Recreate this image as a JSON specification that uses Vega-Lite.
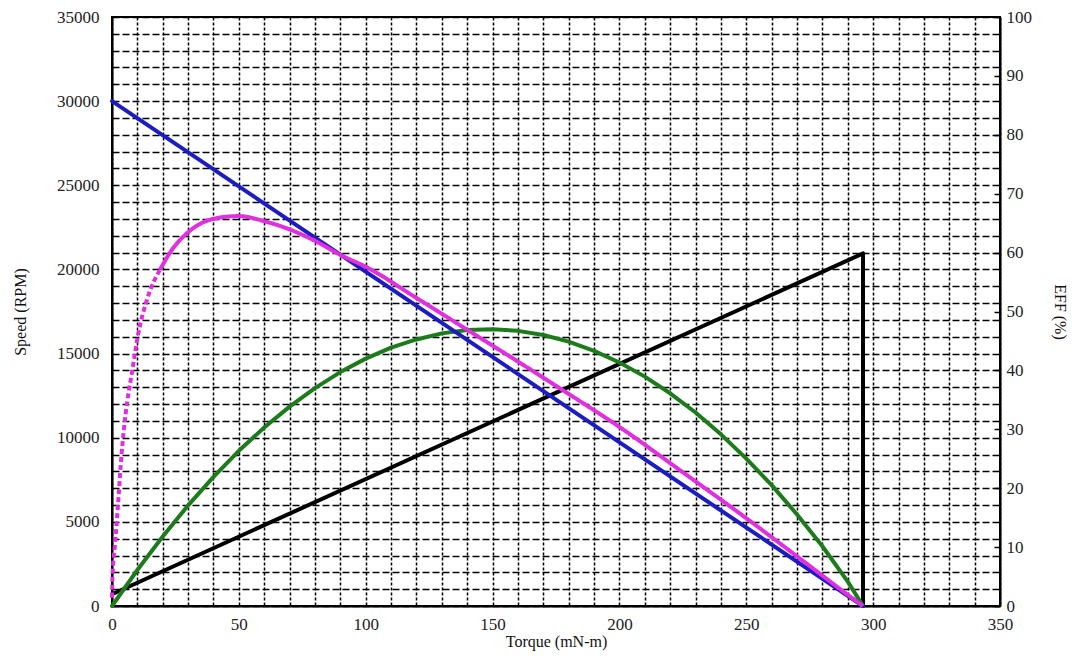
{
  "$schema": "https://vega.github.io/schema/vega-lite/v6.json",
  "width": 888,
  "height": 589,
  "autosize": {"type": "none"},
  "padding": {"left": 112, "top": 17, "right": 84, "bottom": 54},
  "background": "white",
  "config": {
    "font": "Liberation Serif",
    "view": {"stroke": "black", "strokeWidth": 2}
  },
  "datasets": {
    "left": [
      {"series": "current", "seq": 0, "torque": 0, "value": 700},
      {"series": "current", "seq": 1, "torque": 296, "value": 20950},
      {"series": "current", "seq": 2, "torque": 296, "value": 0},
      {"series": "power", "seq": 0, "torque": 0, "value": 0},
      {"series": "power", "seq": 1, "torque": 10, "value": 2140},
      {"series": "power", "seq": 2, "torque": 20, "value": 4130},
      {"series": "power", "seq": 3, "torque": 30, "value": 5980},
      {"series": "power", "seq": 4, "torque": 40, "value": 7670},
      {"series": "power", "seq": 5, "torque": 50, "value": 9220},
      {"series": "power", "seq": 6, "torque": 60, "value": 10610},
      {"series": "power", "seq": 7, "torque": 70, "value": 11850},
      {"series": "power", "seq": 8, "torque": 80, "value": 12950},
      {"series": "power", "seq": 9, "torque": 90, "value": 13900},
      {"series": "power", "seq": 10, "torque": 100, "value": 14700},
      {"series": "power", "seq": 11, "torque": 110, "value": 15350},
      {"series": "power", "seq": 12, "torque": 120, "value": 15840},
      {"series": "power", "seq": 13, "torque": 130, "value": 16200},
      {"series": "power", "seq": 14, "torque": 140, "value": 16400},
      {"series": "power", "seq": 15, "torque": 150, "value": 16450},
      {"series": "power", "seq": 16, "torque": 160, "value": 16350},
      {"series": "power", "seq": 17, "torque": 170, "value": 16100},
      {"series": "power", "seq": 18, "torque": 180, "value": 15710},
      {"series": "power", "seq": 19, "torque": 190, "value": 15160},
      {"series": "power", "seq": 20, "torque": 200, "value": 14470},
      {"series": "power", "seq": 21, "torque": 210, "value": 13630},
      {"series": "power", "seq": 22, "torque": 220, "value": 12640},
      {"series": "power", "seq": 23, "torque": 230, "value": 11500},
      {"series": "power", "seq": 24, "torque": 240, "value": 10200},
      {"series": "power", "seq": 25, "torque": 250, "value": 8760},
      {"series": "power", "seq": 26, "torque": 260, "value": 7180},
      {"series": "power", "seq": 27, "torque": 270, "value": 5440},
      {"series": "power", "seq": 28, "torque": 280, "value": 3550},
      {"series": "power", "seq": 29, "torque": 290, "value": 1450},
      {"series": "power", "seq": 30, "torque": 296, "value": 0},
      {"series": "speed", "seq": 0, "torque": 0, "value": 30000},
      {"series": "speed", "seq": 1, "torque": 296, "value": 0}
    ],
    "eff": [
      {"series": "start", "seq": 0, "torque": 0, "eff": 1.4},
      {"series": "start", "seq": 1, "torque": 0.2, "eff": 5.0},
      {"series": "start", "seq": 2, "torque": 1.2, "eff": 10.6},
      {"series": "start", "seq": 3, "torque": 2.5, "eff": 18.0},
      {"series": "start", "seq": 4, "torque": 3.8, "eff": 25.9},
      {"series": "start", "seq": 5, "torque": 5.4, "eff": 32.7},
      {"series": "start", "seq": 6, "torque": 7.8, "eff": 39.5},
      {"series": "start", "seq": 7, "torque": 10.4, "eff": 46.3},
      {"series": "start", "seq": 8, "torque": 13.7, "eff": 51.9},
      {"series": "start", "seq": 9, "torque": 18.9, "eff": 57.1},
      {"series": "main", "seq": 0, "torque": 18.9, "eff": 57.1},
      {"series": "main", "seq": 1, "torque": 23.5, "eff": 60.4},
      {"series": "main", "seq": 2, "torque": 30.1, "eff": 63.5},
      {"series": "main", "seq": 3, "torque": 40.6, "eff": 65.8},
      {"series": "main", "seq": 4, "torque": 49.8, "eff": 66.2},
      {"series": "main", "seq": 5, "torque": 60.3, "eff": 65.3},
      {"series": "main", "seq": 6, "torque": 70.8, "eff": 63.8},
      {"series": "main", "seq": 7, "torque": 80, "eff": 62.0},
      {"series": "main", "seq": 8, "torque": 91, "eff": 59.4},
      {"series": "main", "seq": 9, "torque": 100, "eff": 57.6},
      {"series": "main", "seq": 10, "torque": 120, "eff": 52.3},
      {"series": "main", "seq": 11, "torque": 140, "eff": 46.9},
      {"series": "main", "seq": 12, "torque": 160, "eff": 41.5},
      {"series": "main", "seq": 13, "torque": 180, "eff": 36.0},
      {"series": "main", "seq": 14, "torque": 200, "eff": 30.4},
      {"series": "main", "seq": 15, "torque": 225, "eff": 22.7},
      {"series": "main", "seq": 16, "torque": 250, "eff": 14.9},
      {"series": "main", "seq": 17, "torque": 275, "eff": 6.8},
      {"series": "main", "seq": 18, "torque": 290, "eff": 1.9},
      {"series": "main", "seq": 19, "torque": 296, "eff": 0}
    ]
  },
  "layer": [
    {
      "data": {"name": "left"},
      "mark": {"type": "line", "strokeWidth": 4, "strokeCap": "round", "strokeJoin": "round"},
      "encoding": {
        "x": {
          "field": "torque",
          "type": "quantitative",
          "scale": {"domain": [0, 350], "nice": false},
          "axis": {
            "orient": "bottom",
            "title": null,
            "values": [0, 10, 20, 30, 40, 50, 60, 70, 80, 90, 100, 110, 120, 130, 140, 150, 160, 170, 180, 190, 200, 210, 220, 230, 240, 250, 260, 270, 280, 290, 300, 310, 320, 330, 340, 350],
            "labels": false,
            "ticks": false,
            "domainColor": "black",
            "domainWidth": 2,
            "grid": true,
            "gridColor": "black",
            "gridOpacity": 1,
            "gridWidth": 1.5,
            "gridDash": [3, 2]
          }
        },
        "y": {
          "field": "value",
          "type": "quantitative",
          "scale": {"domain": [0, 35000], "nice": false},
          "axis": {
            "title": "Speed (RPM)",
            "titleFont": "Liberation Serif",
            "titleFontSize": 16,
            "titleFontWeight": "normal",
            "titleColor": "#111",
            "values": [0, 1000, 2000, 3000, 4000, 5000, 6000, 7000, 8000, 9000, 10000, 11000, 12000, 13000, 14000, 15000, 16000, 17000, 18000, 19000, 20000, 21000, 22000, 23000, 24000, 25000, 26000, 27000, 28000, 29000, 30000, 31000, 32000, 33000, 34000, 35000],
            "labelExpr": "datum.value % 5000 == 0 ? datum.label : ''",
            "format": "d",
            "labelFont": "Liberation Serif",
            "labelFontSize": 17,
            "labelColor": "#222",
            "labelOverlap": false,
            "labelFlush": false,
            "labelBound": false,
            "ticks": false,
            "domainColor": "black",
            "domainWidth": 2,
            "labelPadding": 13,
            "titlePadding": 28,
            "grid": true,
            "gridColor": "black",
            "gridOpacity": 1,
            "gridWidth": 1.5,
            "gridDash": [7, 3]
          }
        },
        "color": {
          "field": "series",
          "type": "nominal",
          "scale": {"domain": ["current", "power", "speed"], "range": ["#000000", "#1c7c1c", "#1c1cc4"]},
          "legend": null
        },
        "order": {"field": "seq", "type": "quantitative"}
      }
    },
    {
      "data": {"name": "eff"},
      "mark": {"type": "line", "strokeWidth": 4, "color": "#e02ee0", "interpolate": "monotone"},
      "encoding": {
        "x": {
          "field": "torque",
          "type": "quantitative",
          "scale": {"domain": [0, 350], "nice": false},
          "axis": {
            "orient": "bottom",
            "title": "Torque (mN-m)",
            "titleFont": "Liberation Serif",
            "titleFontSize": 16,
            "titleFontWeight": "normal",
            "titleColor": "#111",
            "values": [0, 50, 100, 150, 200, 250, 300, 350],
            "format": "d",
            "labelFont": "Liberation Serif",
            "labelFontSize": 17,
            "labelColor": "#222",
            "labelOverlap": false,
            "labelFlush": false,
            "labelBound": false,
            "ticks": false,
            "domain": false,
            "grid": false,
            "labelPadding": 10,
            "titlePadding": 1
          }
        },
        "y": {
          "field": "eff",
          "type": "quantitative",
          "scale": {"domain": [0, 100], "nice": false},
          "axis": {
            "orient": "right",
            "title": "EFF (%)",
            "titleFont": "Liberation Serif",
            "titleFontSize": 16,
            "titleFontWeight": "normal",
            "titleColor": "#111",
            "values": [0, 10, 20, 30, 40, 50, 60, 70, 80, 90, 100],
            "labelFont": "Liberation Serif",
            "labelFontSize": 17,
            "labelColor": "#222",
            "labelOverlap": false,
            "labelFlush": false,
            "labelBound": false,
            "grid": false,
            "ticks": true,
            "tickColor": "black",
            "tickWidth": 1.5,
            "tickSize": -6,
            "domainColor": "black",
            "domainWidth": 2,
            "labelPadding": 12,
            "titlePadding": 20
          }
        },
        "strokeDash": {
          "field": "series",
          "type": "nominal",
          "scale": {"domain": ["start", "main"], "range": [[5, 3], [1, 0]]},
          "legend": null
        },
        "order": {"field": "seq", "type": "quantitative"}
      }
    }
  ],
  "resolve": {"scale": {"y": "independent"}, "axis": {"x": "independent", "y": "independent"}}
}
